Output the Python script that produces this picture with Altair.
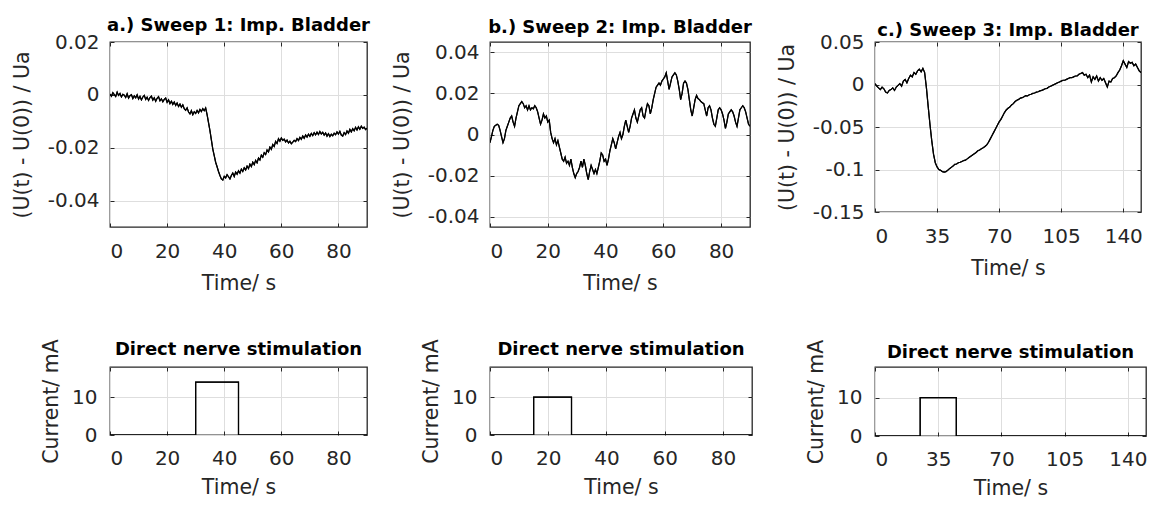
import altair as alt
import pandas as pd

FONT = "DejaVu Sans"
DARK = "#262626"
GRID = "#dedede"

# ---------------- data ----------------
# Sweep 1 (sampled every 0.5 s, 0..90 s)
a_step = 0.5
a_values = [
    0.0003, -0.0005, 0.0008, 0.0001, -0.0006, 0.0010, -0.0002, 0.0005, -0.0008, 0.0002,
    -0.0001, -0.0010, 0.0004, -0.0012, -0.0003, 0.0001, -0.0014, -0.0004, -0.0011, 0.0000,
    -0.0016, -0.0006, -0.0019, -0.0008, -0.0002, -0.0017, -0.0009, -0.0021, -0.0010, -0.0005,
    -0.0020, -0.0011, -0.0024, -0.0013, -0.0007, -0.0022, -0.0015, -0.0026, -0.0017, -0.0012,
    -0.0028, -0.0019, -0.0033, -0.0024, -0.0036, -0.0027, -0.0040, -0.0031, -0.0044, -0.0035,
    -0.0047, -0.0038, -0.0052, -0.0058, -0.0049, -0.0065, -0.0072, -0.0060, -0.0075, -0.0064,
    -0.0070, -0.0059, -0.0068, -0.0055, -0.0063, -0.0052, -0.0060, -0.0050, -0.0075, -0.0105,
    -0.0135, -0.0170, -0.0205, -0.0230, -0.0255, -0.0272, -0.0290, -0.0305, -0.0318, -0.0322,
    -0.0308, -0.0314, -0.0302, -0.0310, -0.0318, -0.0305, -0.0296, -0.0309, -0.0292, -0.0300,
    -0.0287, -0.0296, -0.0281, -0.0290, -0.0276, -0.0284, -0.0270, -0.0279, -0.0262, -0.0271,
    -0.0255, -0.0264, -0.0248, -0.0257, -0.0239, -0.0246, -0.0228, -0.0236, -0.0219, -0.0226,
    -0.0209, -0.0216, -0.0198, -0.0206, -0.0188, -0.0195, -0.0176, -0.0184, -0.0166, -0.0175,
    -0.0163, -0.0172, -0.0168, -0.0178, -0.0171, -0.0182, -0.0176, -0.0185, -0.0179, -0.0172,
    -0.0177, -0.0166, -0.0173, -0.0161, -0.0168, -0.0156, -0.0164, -0.0152, -0.0160, -0.0149,
    -0.0157, -0.0146, -0.0154, -0.0143, -0.0151, -0.0141, -0.0150, -0.0139, -0.0148, -0.0142,
    -0.0152, -0.0144, -0.0156, -0.0147, -0.0158, -0.0149, -0.0155, -0.0145, -0.0151, -0.0140,
    -0.0148, -0.0138, -0.0152, -0.0156, -0.0143, -0.0150, -0.0137, -0.0145, -0.0131, -0.0140,
    -0.0128, -0.0136, -0.0123, -0.0133, -0.0121, -0.0130, -0.0119, -0.0127, -0.0122, -0.0131,
    -0.0126,
]

# Sweep 2 (sampled every 0.5 s, 0..90 s)
b_step = 0.5
b_values = [
    -0.004, -0.001, 0.002, 0.004, 0.0045, 0.005, 0.0045, 0.002, -0.001, -0.004,
    -0.002, 0.002, 0.004, 0.006, 0.008, 0.009, 0.006, 0.004, 0.008, 0.011,
    0.014, 0.015, 0.016, 0.015, 0.013, 0.014, 0.012, 0.014, 0.012, 0.013,
    0.0125, 0.014, 0.013, 0.011, 0.008, 0.005, 0.007, 0.010, 0.008, 0.009,
    0.006, 0.007, 0.001, -0.002, -0.004, -0.002, -0.005, -0.003, -0.006, -0.009,
    -0.012, -0.013, -0.011, -0.014, -0.013, -0.015, -0.012, -0.016, -0.019, -0.021,
    -0.019, -0.018, -0.016, -0.013, -0.016, -0.012, -0.015, -0.019, -0.022, -0.018,
    -0.015, -0.017, -0.019, -0.017, -0.019, -0.016, -0.013, -0.009, -0.010, -0.013,
    -0.012, -0.015, -0.012, -0.008, -0.005, -0.002, -0.004, -0.007, -0.004, -0.001,
    0.001, -0.002, 0.000, 0.004, 0.007, 0.004, 0.001, 0.004, 0.008, 0.010,
    0.012, 0.008, 0.006, 0.009, 0.012, 0.013, 0.009, 0.008, 0.012, 0.015,
    0.014, 0.010, 0.013, 0.017, 0.020, 0.023, 0.024, 0.025, 0.024, 0.026,
    0.027, 0.028, 0.030, 0.026, 0.022, 0.025, 0.028, 0.029, 0.030, 0.029,
    0.026, 0.022, 0.017, 0.020, 0.025, 0.026, 0.025, 0.022, 0.017, 0.012,
    0.009, 0.013, 0.017, 0.019, 0.0175, 0.017, 0.016, 0.0155, 0.015, 0.012,
    0.009, 0.013, 0.014, 0.012, 0.008, 0.005, 0.004, 0.008, 0.012, 0.013,
    0.012, 0.010, 0.007, 0.003, 0.006, 0.010, 0.011, 0.012, 0.011, 0.009,
    0.006, 0.004, 0.008, 0.012, 0.013, 0.014, 0.013, 0.011, 0.008, 0.005,
    0.004,
]

# Sweep 3 (sampled every 1 s, 0..150 s)
c_step = 1.0
c_values = [
    0.001, -0.002, -0.004, -0.006, -0.003, -0.005, -0.009, -0.010, -0.007, -0.006,
    -0.004, -0.007, -0.003, -0.001, 0.001, -0.002, 0.004, 0.006, 0.002, 0.007,
    0.011, 0.009, 0.014, 0.012, 0.016, 0.018, 0.015, 0.019, 0.014, -0.004,
    -0.026, -0.047, -0.066, -0.082, -0.092, -0.097, -0.100, -0.101, -0.1025, -0.103,
    -0.1025, -0.101, -0.099, -0.0975, -0.096, -0.094, -0.0935, -0.092, -0.0915, -0.0905,
    -0.0895, -0.089, -0.0875, -0.086, -0.0845, -0.083, -0.0815, -0.080, -0.078, -0.077,
    -0.0755, -0.0745, -0.073, -0.071, -0.068, -0.064, -0.060, -0.056, -0.052, -0.048,
    -0.044, -0.041, -0.037, -0.033, -0.030, -0.028, -0.0265, -0.024, -0.0225, -0.020,
    -0.0185, -0.0175, -0.016, -0.0155, -0.0145, -0.013, -0.0135, -0.012, -0.0115, -0.0105,
    -0.010, -0.009, -0.0085, -0.0075, -0.0070, -0.006, -0.005, -0.0045, -0.003, -0.002,
    -0.001, 0.000, 0.001, 0.002, 0.003, 0.004, 0.005, 0.005, 0.006, 0.007,
    0.008, 0.008, 0.009, 0.010, 0.010, 0.012, 0.013, 0.014, 0.011, 0.012,
    0.008, 0.011, 0.003, 0.009, 0.006, 0.010, 0.004, 0.008, 0.005, 0.007,
    0.002, -0.003, 0.004, 0.003, 0.007, 0.008, 0.010, 0.014, 0.017, 0.022,
    0.028, 0.024, 0.020, 0.027, 0.025, 0.026, 0.022, 0.024, 0.020, 0.016,
    0.014,
]

# Stimulation pulses (step outlines)
d_time = [0, 30, 30, 45, 45, 90]
d_current = [0, 0, 14, 14, 0, 0]
e_time = [0, 15, 15, 28, 28, 90]
e_current = [0, 0, 10, 10, 0, 0]
f_time = [0, 25, 25, 45, 45, 150]
f_current = [0, 0, 10, 10, 0, 0]

titles_top = ["a.) Sweep 1: Imp. Bladder", "b.) Sweep 2: Imp. Bladder", "c.) Sweep 3: Imp. Bladder"]
title_bottom = "Direct nerve stimulation"
y_title_top = "(U(t) - U(0)) / Ua"
y_title_bottom = "Current/ mA"
x_title = "Time/ s"

ticks_x_90 = [0, 20, 40, 60, 80]
ticks_x_150 = [0, 35, 70, 105, 140]
ticks_y_a = [-0.04, -0.02, 0, 0.02]
ticks_y_b = [-0.04, -0.02, 0, 0.02, 0.04]
ticks_y_c = [-0.15, -0.1, -0.05, 0, 0.05]
ticks_y_cur = [0, 10]

# ---------------- helpers ----------------
TICK = 4
LBL = 20
TTL = 20.5
HEAD = 18


def sweep_df(step, values):
    return pd.DataFrame({"t": [i * step for i in range(len(values))], "v": values})


def panel(df, xdom, ydom, xticks, yticks, w, h, title, title_offset, ytitle,
          x_lab_pad, x_title_pad, y_lab_pad, y_title_pad, order_data=False):
    labexpr = "'' + datum.value"
    xsort = None if order_data else "ascending"
    x_main = alt.X("t:Q", sort=xsort,
                   scale=alt.Scale(domain=xdom, nice=False, zero=False),
                   axis=alt.Axis(values=xticks, orient="bottom", title=x_title,
                                 grid=True, gridColor=GRID, gridWidth=1,
                                 domain=False, ticks=True, tickSize=TICK, offset=-TICK,
                                 tickColor=DARK, tickWidth=1,
                                 labelPadding=x_lab_pad, labelFont=FONT, labelFontSize=LBL,
                                 labelColor=DARK, labelExpr=labexpr,
                                 titleFont=FONT, titleFontSize=TTL, titleFontWeight="normal",
                                 titleColor=DARK, titlePadding=x_title_pad))
    y_main = alt.Y("v:Q",
                   scale=alt.Scale(domain=ydom, nice=False, zero=False),
                   axis=alt.Axis(values=yticks, orient="left", title=ytitle,
                                 grid=True, gridColor=GRID, gridWidth=1,
                                 domain=False, ticks=True, tickSize=TICK, offset=-TICK,
                                 tickColor=DARK, tickWidth=1,
                                 labelPadding=y_lab_pad, labelFont=FONT, labelFontSize=LBL,
                                 labelColor=DARK, labelExpr=labexpr,
                                 titleFont=FONT, titleFontSize=TTL, titleFontWeight="normal",
                                 titleColor=DARK, titlePadding=y_title_pad))
    x_top = alt.X("t:Q", sort=xsort,
                  scale=alt.Scale(domain=xdom, nice=False, zero=False),
                  axis=alt.Axis(values=xticks, orient="top", title=None, grid=False,
                                labels=False, domain=False, ticks=True, tickSize=TICK,
                                offset=-TICK, tickColor=DARK, tickWidth=1))
    y_right = alt.Y("v:Q",
                    scale=alt.Scale(domain=ydom, nice=False, zero=False),
                    axis=alt.Axis(values=yticks, orient="right", title=None, grid=False,
                                  labels=False, domain=False, ticks=True, tickSize=TICK,
                                  offset=-TICK, tickColor=DARK, tickWidth=1))
    line1 = alt.Chart(df).mark_line(color="black", strokeWidth=1.2, clip=True).encode(x=x_main, y=y_main)
    line2 = alt.Chart(df).mark_line(color="black", strokeWidth=1.2, clip=True).encode(x=x_top, y=y_right)
    return alt.layer(line1, line2).resolve_axis(x="independent", y="independent").properties(
        width=w, height=h,
        title=alt.TitleParams(title, font=FONT, fontSize=HEAD, fontWeight="bold",
                              color="black", anchor="middle", frame="group",
                              offset=title_offset),
    )


TOP = dict(x_lab_pad=14, x_title_pad=12, y_lab_pad=11, y_title_pad=15)
BOT = dict(x_lab_pad=13, x_title_pad=9, y_lab_pad=13, y_title_pad=10)

a = panel(sweep_df(a_step, a_values), [0, 90], [-0.05, 0.02], ticks_x_90, ticks_y_a,
          257, 185, titles_top[0], -3, y_title_top, **TOP)
b = panel(sweep_df(b_step, b_values), [0, 90], [-0.045, 0.045], ticks_x_90, ticks_y_b,
          260, 185, titles_top[1], 5, y_title_top, **TOP)
c = panel(sweep_df(c_step, c_values), [0, 150], [-0.15, 0.05], ticks_x_150, ticks_y_c,
          266, 170, titles_top[2], -8, y_title_top, **TOP)

d = panel(pd.DataFrame({"t": d_time, "v": d_current}), [0, 90], [0, 18], ticks_x_90, ticks_y_cur,
          257, 68, title_bottom, -20, y_title_bottom, order_data=True, **BOT)
e = panel(pd.DataFrame({"t": e_time, "v": e_current}), [0, 90], [0, 18], ticks_x_90, ticks_y_cur,
          262, 68, title_bottom, -20, y_title_bottom, order_data=True, **BOT)
f = panel(pd.DataFrame({"t": f_time, "v": f_current}), [0, 150], [0, 18], ticks_x_150, ticks_y_cur,
          271, 69, title_bottom, -23, y_title_bottom, order_data=True, **BOT)

chart = alt.concat(a, b, c, d, e, f, columns=3,
                   spacing={"row": 140, "column": 123},
                   bounds="flush", align="each").configure_view(
    stroke=DARK, strokeWidth=1.3
).properties(
    background="white",
    padding={"left": 3, "top": 8, "right": 5, "bottom": 0},
)

chart.save("out.html", embed_options={"renderer": "svg", "actions": False})
